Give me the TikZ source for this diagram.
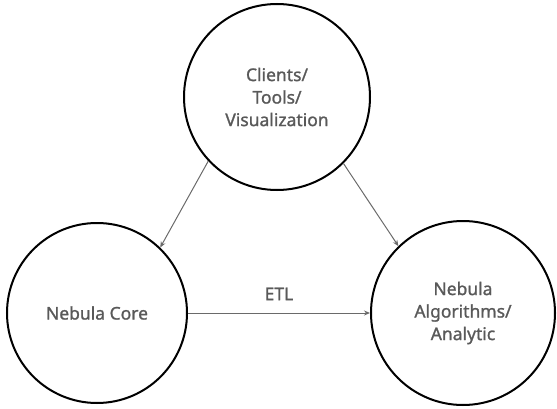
\documentclass[tikz,border=0pt]{standalone}
\usepackage{fontspec}
\setmainfont[FakeBold=1.2]{Noto Sans}
\usetikzlibrary{arrows.meta}
\definecolor{txt}{HTML}{595959}
\definecolor{arr}{HTML}{6A6A6A}
\begin{document}
\begin{tikzpicture}[x=1pt,y=1pt,
  bubble/.style={circle,draw=black,line width=2pt,inner sep=0pt,text=txt,align=center,
    font=\fontsize{17.5}{22.5}\selectfont\bfseries},
  conn/.style={draw=arr,line width=1pt,-{Stealth[length=6pt,width=5pt]}}]
\useasboundingbox (0,0) rectangle (557,408);
\node[bubble,minimum size=186pt] (top) at (277,311) {Clients/\\Tools/\\Visualization};
\node[bubble,minimum size=180pt] (core) at (97,95) {Nebula Core};
\node[bubble,minimum size=184pt] (algo) at (463,95) {Nebula\\Algorithms/\\Analytic};
\draw[conn] (top.223) -- (core.46);
\draw[conn] (top.315) -- (algo.134);
\draw[conn] (core.east) -- node[above=9pt,text=txt,font=\fontsize{17.5}{20}\selectfont\bfseries] (etl) {ETL} (algo.west);
\end{tikzpicture}
\end{document}
